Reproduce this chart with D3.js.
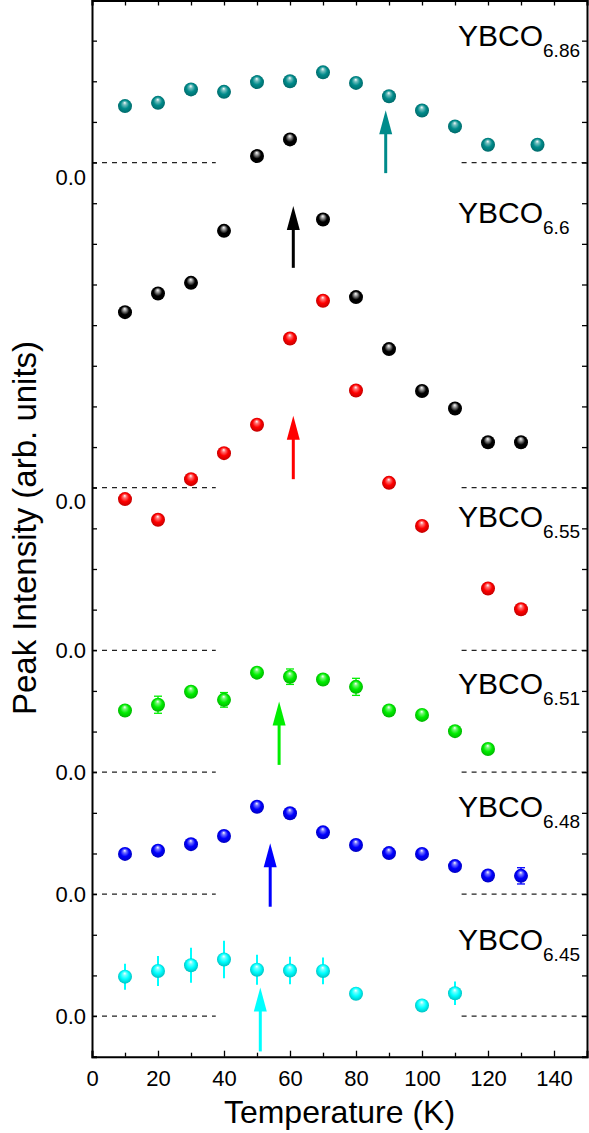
<!DOCTYPE html>
<html><head><meta charset="utf-8">
<script src="https://cdn.jsdelivr.net/npm/d3@7"></script>
<style>
body{margin:0;background:#fff;}
text{font-family:"Liberation Sans",Arial,Helvetica,sans-serif;}
</style></head>
<body><svg id="c" width="589" height="1133"></svg>
<script>
// ---- data ----
const seriesNames = ["6.86","6.6","6.55","6.51","6.48","6.45"];
const seriesColors = ["#008b8b","#000000","#ff0000","#00ee00","#0000ff","#00ffff"];
const offsets = [22, 14, 10, 7, 4, 1];

const t686 = [10,20,30,40,50,60,70,80,90,100,110,120,135];
const v686 = [1.39,1.47,1.80,1.74,1.98,2.00,2.22,1.96,1.63,1.28,0.89,0.44,0.44];
const e686 = [0,0,0,0,0,0,0,0,0,0,0,0,0];

const t66 = [10,20,30,40,50,60,70,80,90,100,110,120,130];
const v66 = [4.32,4.78,5.04,6.32,8.16,8.57,6.60,4.69,3.41,2.38,1.95,1.12,1.12];
const e66 = [0,0,0,0,0,0,0,0,0,0,0,0,0];

const t655 = [10,20,30,40,50,60,70,80,90,100,120,130];
const v655 = [3.72,3.21,4.21,4.85,5.55,7.67,8.60,6.39,4.12,3.06,1.52,1.01];
const e655 = [0,0,0,0,0,0,0,0,0,0,0,0];

const t651 = [10,20,30,40,50,60,70,80,90,100,110,120];
const v651 = [1.52,1.66,1.98,1.78,2.45,2.35,2.28,2.10,1.52,1.41,1.01,0.57];
const e651 = [0.05,0.21,0.05,0.18,0.05,0.19,0.05,0.21,0.05,0.05,0.05,0.05];

const t648 = [10,20,30,40,50,60,70,80,90,100,110,120,130];
const v648 = [0.99,1.07,1.23,1.43,2.15,1.99,1.52,1.21,1.01,0.99,0.69,0.46,0.45];
const e648 = [0.05,0.05,0.05,0.05,0.05,0.05,0.05,0.05,0.05,0.05,0.05,0.05,0.20];

const t645 = [10,20,30,40,50,60,70,80,100,110];
const v645 = [0.97,1.11,1.25,1.39,1.14,1.12,1.11,0.55,0.26,0.56];
const e645 = [0.32,0.37,0.43,0.46,0.37,0.34,0.33,0.05,0.05,0.29];

// arrows (T, tip value, tail value; relative to each baseline)
const arrowT = [89, 61, 61, 56.7, 54, 51];
const arrowTip = [1.29, 6.93, 5.77, 1.74, 1.25, 0.70];
const arrowTail = [-0.26, 5.41, 4.21, 0.18, -0.31, -0.87];

// y tick label positions & texts
const yLabelVals = [21.65, 13.67, 10, 7, 4, 1];
const yLabelTexts = ["0.0","0.0","0.0","0.0","0.0","0.0"];
const xTickLabels = [0,20,40,60,80,100,120,140];
// sample label positions (data units)
const labelVals = [24.88, 20.51, 13.03, 8.92, 5.91, 2.63];

// baseline dashed segments (temperature ranges)
const dashLeft = [0, 37.5];
const dashRight = [112, 150];

// ---- build ----
const T = [t686,t66,t655,t651,t648,t645];
const V = [v686,v66,v655,v651,v648,v645];
const E = [e686,e66,e655,e651,e648,e645];
const capped = [false,false,false,true,true,false];

const svg = d3.select("#c");
const x = d3.scaleLinear().domain([0,150]).range([92,587]);
const y = d3.scaleLinear().domain([0,26]).range([1056.7,0]);

const defs = svg.append("defs");
seriesColors.forEach((c,i)=>{
  const g = defs.append("radialGradient").attr("id","g"+i)
    .attr("cx","50%").attr("cy","50%").attr("r","55%").attr("fx","48%").attr("fy","25%");
  const base = d3.color(c);
  g.append("stop").attr("offset","0%").attr("stop-color","#ffffff");
  g.append("stop").attr("offset","22%").attr("stop-color", i===1 ? "#9a9a9a" : d3.interpolateRgb(c,"#fff")(0.45));
  g.append("stop").attr("offset","55%").attr("stop-color", c);
  g.append("stop").attr("offset","100%").attr("stop-color", i===1 ? "#000" : base.darker(0.9).formatHex());
  const m = defs.append("marker").attr("id","ah"+i).attr("viewBox","0 0 13 24")
    .attr("refX",6.5).attr("refY",0).attr("markerWidth",13).attr("markerHeight",24)
    .attr("markerUnits","userSpaceOnUse").attr("orient","auto-start-reverse");
});

// dashed baselines
const dashG = svg.append("g");
offsets.forEach(o=>{
  [dashLeft,dashRight].forEach(r=>{
    dashG.append("line").attr("x1",x(r[0])).attr("x2",x(r[1]))
      .attr("y1",y(o)).attr("y2",y(o))
      .attr("stroke","#222").attr("stroke-width",1.2).attr("stroke-dasharray","5,5");
  });
});

// axes
const axG = svg.append("g");
const lt = axG.append("g").attr("transform","translate(92,0)")
  .call(d3.axisLeft(y).tickValues(d3.range(0,27)).tickSize(-5).tickFormat(""));
const rt = axG.append("g").attr("transform","translate(587,0)")
  .call(d3.axisRight(y).tickValues(d3.range(0,27)).tickSize(-5).tickFormat(""));
const tp = axG.append("g").attr("transform","translate(0,0.5)")
  .call(d3.axisTop(x).tickValues(d3.range(0,151,10)).tickSize(-5).tickFormat(""));
const bmin = axG.append("g").attr("transform","translate(0,1056.7)")
  .call(d3.axisBottom(x).tickValues(d3.range(10,150,20)).tickSize(-4).tickFormat(""));
const bt = axG.append("g").attr("transform","translate(0,1056.7)")
  .call(d3.axisBottom(x).tickValues(xTickLabels).tickSize(-6).tickPadding(14).tickFormat(d3.format("d")));
[lt,rt,tp,bmin,bt].forEach(a=>{
  a.selectAll(".domain").attr("stroke","#000").attr("stroke-width",2);
  a.selectAll(".tick line").attr("stroke","#000").attr("stroke-width",1.3);
});
bmin.select(".domain").remove();
bt.selectAll(".tick text").attr("font-size",22).attr("fill","#000")
  .attr("font-family","Liberation Sans, Arial, sans-serif");

// y "0.0" labels
svg.append("g").selectAll("text").data(yLabelVals).join("text")
  .attr("x",86).attr("y",d=>y(d)).attr("dy","0.36em").attr("text-anchor","end")
  .attr("font-size",22).text((d,i)=>yLabelTexts[i]);

// error bars
T.forEach((ts,i)=>{
  const g = svg.append("g");
  ts.forEach((t,j)=>{
    const e = E[i][j]; if(!e) return;
    const cx = x(t), y1 = y(offsets[i]+V[i][j]+e), y2 = y(offsets[i]+V[i][j]-e);
    g.append("line").attr("x1",cx).attr("x2",cx).attr("y1",y1).attr("y2",y2)
      .attr("stroke",seriesColors[i]).attr("stroke-width",i===5?2:1.3);
    if(capped[i]){
      [y1,y2].forEach(yy=>g.append("line").attr("x1",cx-4).attr("x2",cx+4).attr("y1",yy).attr("y2",yy)
        .attr("stroke",seriesColors[i]).attr("stroke-width",1.3));
    }
  });
});

// points
T.forEach((ts,i)=>{
  svg.append("g").selectAll("circle").data(ts).join("circle")
    .attr("cx",d=>x(d)).attr("cy",(d,j)=>y(offsets[i]+V[i][j])).attr("r",7)
    .attr("fill","url(#g"+i+")");
});

// arrows
arrowT.forEach((t,i)=>{
  const cx = x(t), yTip = y(offsets[i]+arrowTip[i]), yTail = y(offsets[i]+arrowTail[i]);
  const headLen = 24, headW = 13;
  svg.append("line").attr("x1",cx).attr("x2",cx).attr("y1",yTail).attr("y2",yTip+headLen-2)
    .attr("stroke",seriesColors[i]).attr("stroke-width",3);
  svg.append("path").attr("d",`M${cx},${yTip} L${cx-headW/2},${yTip+headLen} L${cx+headW/2},${yTip+headLen} Z`)
    .attr("fill",seriesColors[i]);
});

// sample labels
seriesNames.forEach((n,i)=>{
  const t = svg.append("text").attr("x",458).attr("y",y(labelVals[i])).attr("font-size",30).attr("fill","#000");
  t.append("tspan").text("YBCO");
  t.append("tspan").attr("dy",11).attr("font-size",19).text(n);
});

// axis titles
svg.append("text").attr("x",339.5).attr("y",1122.5).attr("text-anchor","middle")
  .attr("font-size",32).text("Temperature (K)");
svg.append("text").attr("transform","translate(36,528) rotate(-90)").attr("text-anchor","middle")
  .attr("font-size",33).text("Peak Intensity (arb. units)");
</script></body></html>
